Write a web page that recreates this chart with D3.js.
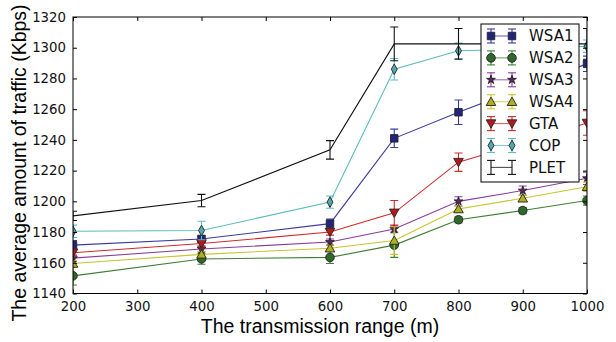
<!DOCTYPE html>
<html>
<head>
<meta charset="utf-8">
<script src="https://cdn.jsdelivr.net/npm/d3@7"></script>
<style>
  html, body { margin: 0; padding: 0; background: #fff; }
  svg { display: block; }
</style>
</head>
<body>
<svg id="chart" width="616" height="342"></svg>
<script>
// Transmission range (m)
const ranges = [200, 400, 600, 700, 800, 900, 1000];
const xTicks = [200, 300, 400, 500, 600, 700, 800, 900, 1000];
const yTicks = [1140, 1160, 1180, 1200, 1220, 1240, 1260, 1280, 1300, 1320];

// Average traffic (Kbps) and error half-widths per method
const wsa1 = [1171.5, 1175.5, 1185.5, 1241, 1258, 1274, 1289.5];
const wsa1Err = [3, 2, 3, 6, 8, 6, 5];
const wsa2 = [1151.5, 1162.5, 1163.5, 1171.5, 1188, 1194, 1200.5];
const wsa2Err = [6, 3.5, 4, 8, 2, 2, 3];
const wsa3 = [1163, 1169, 1173.5, 1182, 1200, 1207, 1215];
const wsa3Err = [2, 2, 2, 2, 3, 3, 4];
const wsa4 = [1159.5, 1165.5, 1169.5, 1174.5, 1195, 1202, 1209.5];
const wsa4Err = [2, 2, 2, 9, 2, 2, 3];
const gta = [1166.5, 1172.5, 1180, 1192.5, 1225.5, 1238, 1251];
const gtaErr = [2, 2, 2, 8, 6, 6, 8];
const cop = [1180.5, 1181, 1199.5, 1286, 1298, 1299, 1301];
const copErr = [4, 6, 4, 7, 5, 4, 4];
const plet = [1190.5, 1200.5, 1233.5, 1302.5, 1302.5, 1302.5, 1302.5];
const pletErr = [3, 4, 6, 11, 10, 10, 10];

const seriesNames = ["WSA1", "WSA2", "WSA3", "WSA4", "GTA", "COP", "PLET"];

const series = [
  { name: seriesNames[0], values: wsa1, errors: wsa1Err, line: "#3a3aa0", face: "#22247e", marker: "square" },
  { name: seriesNames[1], values: wsa2, errors: wsa2Err, line: "#3f7f34", face: "#2f6a2a", marker: "circle" },
  { name: seriesNames[2], values: wsa3, errors: wsa3Err, line: "#8a3c9c", face: "#5e2366", marker: "star" },
  { name: seriesNames[3], values: wsa4, errors: wsa4Err, line: "#c6c62e", face: "#b0b01c", marker: "triangleUp" },
  { name: seriesNames[4], values: gta, errors: gtaErr, line: "#cf2c2c", face: "#b8181c", marker: "triangleDown" },
  { name: seriesNames[5], values: cop, errors: copErr, line: "#5cbcbf", face: "#4faab0", marker: "thinDiamond" },
  { name: seriesNames[6], values: plet, errors: pletErr, line: "#111111", face: "none", marker: "none" }
];

const svg = d3.select("#chart");
const margin = { left: 73, right: 29, top: 17, bottom: 48.5 };
const W = 616, H = 342;
const x = d3.scaleLinear().domain([200, 1000]).range([margin.left, W - margin.right]);
const y = d3.scaleLinear().domain([1140, 1320]).range([H - margin.bottom, margin.top]);

const tickFont = "'DejaVu Sans', sans-serif";
const labelFont = "'Liberation Sans', Arial, sans-serif";

// Clip marks to the axes box
svg.append("defs").append("clipPath").attr("id", "plotClip")
  .append("rect")
  .attr("x", x(200)).attr("y", y(1320))
  .attr("width", x(1000) - x(200)).attr("height", y(1140) - y(1320));

function markerPath(kind) {
  switch (kind) {
    case "square": return d3.symbol(d3.symbolSquare, 56)();
    case "circle": return d3.symbol(d3.symbolCircle, 58)();
    case "star": return d3.symbol(d3.symbolStar, 24)();
    case "triangleUp": return d3.symbol(d3.symbolTriangle, 40)();
    case "triangleDown": return d3.symbol(d3.symbolTriangle, 40)();
    case "thinDiamond": return "M0,-5.3L3,0L0,5.3L-3,0Z";
    default: return null;
  }
}

function drawMarker(g, kind, cx, cy, face) {
  const p = markerPath(kind);
  if (!p) return;
  let t = `translate(${cx},${cy})`;
  if (kind === "triangleDown") t += " rotate(180) translate(0,1)";
  if (kind === "triangleUp") t += " translate(0,1)";
  g.append("path").attr("d", p).attr("transform", t)
    .attr("fill", face).attr("stroke", "#222").attr("stroke-width", 0.9);
}

const plot = svg.append("g").attr("clip-path", "url(#plotClip)");
const line = d3.line().x((d, i) => x(ranges[i])).y(d => y(d));
const capHalf = 4;

series.forEach(s => {
  const g = plot.append("g");
  g.append("path").datum(s.values).attr("d", line)
    .attr("fill", "none").attr("stroke", s.line).attr("stroke-width", 1.1);
  s.values.forEach((v, i) => {
    const cx = x(ranges[i]);
    const y0 = y(v - s.errors[i]), y1 = y(v + s.errors[i]);
    g.append("line").attr("x1", cx).attr("x2", cx).attr("y1", y0).attr("y2", y1)
      .attr("stroke", s.line).attr("stroke-width", 1.1);
    [y0, y1].forEach(yy => g.append("line")
      .attr("x1", cx - capHalf).attr("x2", cx + capHalf).attr("y1", yy).attr("y2", yy)
      .attr("stroke", s.line).attr("stroke-width", 1.1));
  });
  s.values.forEach((v, i) => drawMarker(g, s.marker, x(ranges[i]), y(v), s.face));
});

// Axes box
svg.append("rect")
  .attr("x", x(200)).attr("y", y(1320))
  .attr("width", x(1000) - x(200)).attr("height", y(1140) - y(1320))
  .attr("fill", "none").attr("stroke", "#000").attr("stroke-width", 1);

// Inward ticks on all four sides
const tickLen = 4;
const bottomAxis = d3.axisBottom(x).tickValues(xTicks).tickSize(-tickLen).tickPadding(8).tickFormat(d3.format("d"));
const topAxis = d3.axisTop(x).tickValues(xTicks).tickSize(-tickLen).tickFormat("");
const leftAxis = d3.axisLeft(y).tickValues(yTicks).tickSize(-tickLen).tickPadding(7).tickFormat(d3.format("d"));
const rightAxis = d3.axisRight(y).tickValues(yTicks).tickSize(-tickLen).tickFormat("");

function styleAxis(g) {
  g.select(".domain").remove();
  g.selectAll(".tick line").attr("stroke", "#000").attr("stroke-width", 1);
  g.selectAll(".tick text").attr("font-family", tickFont).attr("font-size", 13.3).attr("fill", "#111");
}
svg.append("g").attr("transform", `translate(0,${y(1140)})`).call(bottomAxis).call(styleAxis);
svg.append("g").attr("transform", `translate(0,${y(1320)})`).call(topAxis).call(styleAxis);
svg.append("g").attr("transform", `translate(${x(200)},0)`).call(leftAxis).call(styleAxis);
svg.append("g").attr("transform", `translate(${x(1000)},0)`).call(rightAxis).call(styleAxis);

// Axis titles
svg.append("text").attr("x", 320).attr("y", 333)
  .attr("text-anchor", "middle").attr("font-family", labelFont).attr("font-size", 19.5)
  .attr("fill", "#000").text("The transmission range (m)");
svg.append("text")
  .attr("transform", `translate(26,163) rotate(-90)`)
  .attr("text-anchor", "middle").attr("font-family", labelFont).attr("font-size", 19.5)
  .attr("fill", "#000").text("The average amount of traffic (Kbps)");

// Legend
const lg = svg.append("g");
const lgX = 481, lgY = 24, lgW = 98, lgH = 158;
lg.append("rect").attr("x", lgX).attr("y", lgY).attr("width", lgW).attr("height", lgH)
  .attr("fill", "#fff").attr("stroke", "#000").attr("stroke-width", 1);
const rowStep = 21.9;
series.forEach((s, i) => {
  const ry = 36 + i * rowStep;
  const xa = 491, xb = 512;
  const g = lg.append("g");
  g.append("line").attr("x1", xa).attr("x2", xb).attr("y1", ry).attr("y2", ry)
    .attr("stroke", s.line).attr("stroke-width", 1.1).attr("stroke-opacity", 0.75);
  [xa, xb].forEach(cx => {
    g.append("line").attr("x1", cx).attr("x2", cx).attr("y1", ry - 7).attr("y2", ry + 7)
      .attr("stroke", s.line).attr("stroke-width", 1.1);
    [ry - 7, ry + 7].forEach(yy => g.append("line")
      .attr("x1", cx - capHalf).attr("x2", cx + capHalf).attr("y1", yy).attr("y2", yy)
      .attr("stroke", s.line).attr("stroke-width", 1.1));
    drawMarker(g, s.marker, cx, ry, s.face);
  });
  g.append("text").attr("x", 529).attr("y", ry).attr("dy", "0.36em")
    .attr("font-family", tickFont).attr("font-size", 15).attr("fill", "#111").text(s.name);
});
</script>
</body>
</html>
